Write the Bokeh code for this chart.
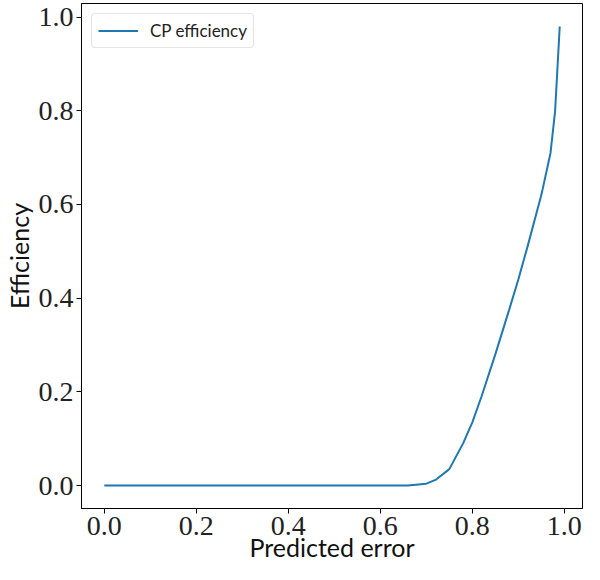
from bokeh.plotting import figure
from bokeh.models import Range1d, Legend, LegendItem, FixedTicker, PrintfTickFormatter
from bokeh.embed import file_html
from bokeh.resources import INLINE

# Data
pred_error = [0.00, 0.05, 0.10, 0.15, 0.20, 0.25, 0.30, 0.35, 0.40, 0.45,
              0.50, 0.55, 0.60, 0.65, 0.66, 0.70, 0.72, 0.75, 0.78, 0.80,
              0.82, 0.85, 0.88, 0.90, 0.92, 0.95, 0.97, 0.98, 0.99]
cp_efficiency = [0.0, 0.0, 0.0, 0.0, 0.0, 0.0, 0.0, 0.0, 0.0, 0.0,
                 0.0, 0.0, 0.0, 0.0, 0.0, 0.004, 0.012, 0.035, 0.09, 0.135,
                 0.19, 0.28, 0.375, 0.44, 0.51, 0.62, 0.71, 0.80, 0.98]
x_ticks = [0.0, 0.2, 0.4, 0.6, 0.8, 1.0]
y_ticks = [0.0, 0.2, 0.4, 0.6, 0.8, 1.0]

p = figure(width=584, height=564, output_backend="svg", toolbar_location=None,
           x_range=Range1d(-0.0495, 1.0395), y_range=Range1d(-0.049, 1.029),
           min_border_left=74, min_border_right=2, min_border_top=3, min_border_bottom=56)

p.background_fill_color = "white"
p.border_fill_color = "white"
p.outline_line_color = "black"
p.outline_line_width = 1
p.grid.visible = False

r = p.line(pred_error, cp_efficiency, line_color="#1f77b4", line_width=2)

for ax, ticks in ((p.xaxis[0], x_ticks), (p.yaxis[0], y_ticks)):
    ax.ticker = FixedTicker(ticks=ticks)
    ax.formatter = PrintfTickFormatter(format="%.1f")
    ax.minor_tick_line_color = None
    ax.major_tick_out = 5
    ax.major_tick_in = 0
    ax.major_tick_line_color = "black"
    ax.axis_line_color = "black"
    ax.major_label_text_font = "Liberation Serif"
    ax.major_label_text_font_size = "28px"
    ax.major_label_text_color = "#222222"
    ax.axis_label_text_font = "Lato"
    ax.axis_label_text_font_size = "25px"
    ax.axis_label_text_font_style = "normal"
    ax.axis_label_text_color = "#111111"

p.xaxis.axis_label = "Predicted error"
p.yaxis.axis_label = "Efficiency"
p.xaxis.major_label_standoff = 3
p.yaxis.major_label_standoff = 3
p.xaxis.axis_label_standoff = -6
p.yaxis.axis_label_standoff = 2

legend = Legend(items=[LegendItem(label="CP efficiency", renderers=[r])],
                location="top_left")
legend.margin = 10
legend.padding = 6
legend.spacing = 0
legend.glyph_width = 40
legend.glyph_height = 19
legend.label_standoff = 12
legend.label_text_font = "Lato"
legend.label_text_font_size = "17px"
legend.label_text_color = "#222222"
legend.border_line_color = "#cccccc"
legend.border_line_width = 1
legend.border_radius = 4
legend.background_fill_alpha = 0.8
p.add_layout(legend)

open("out.html", "w").write(file_html(p, INLINE))
